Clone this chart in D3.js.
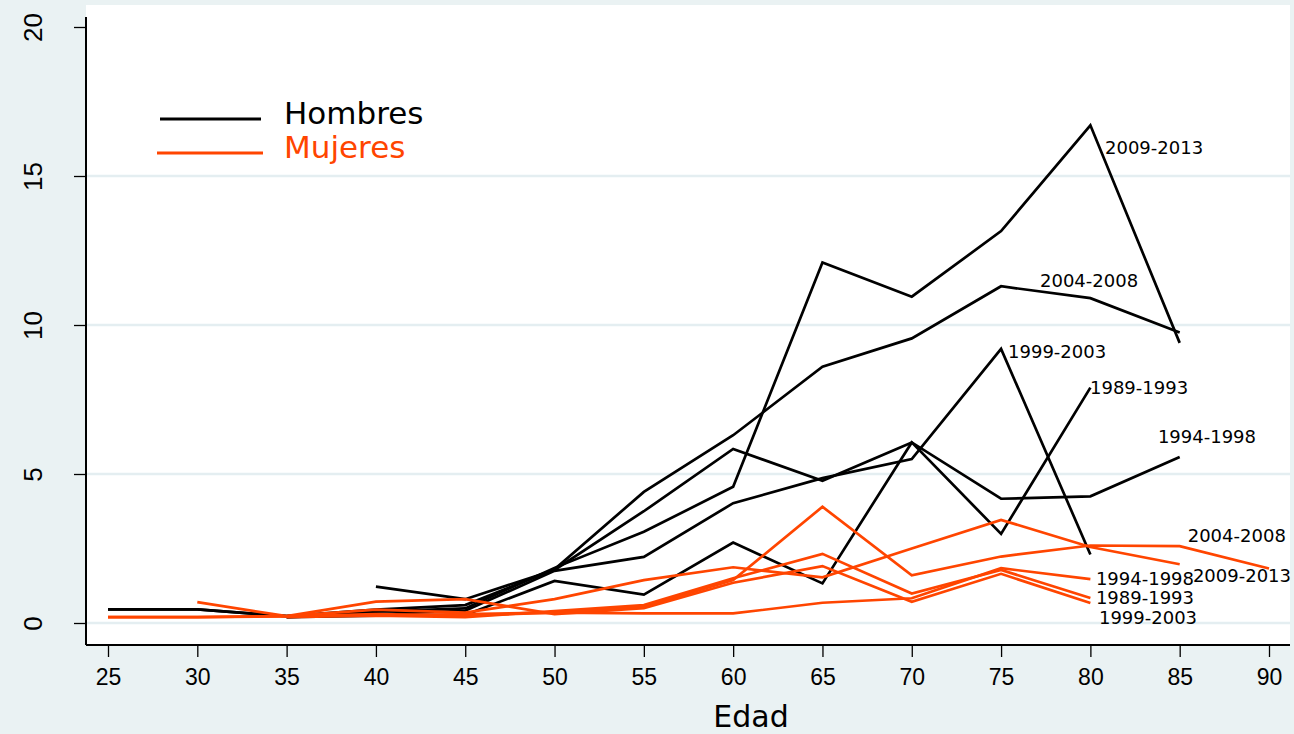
<!DOCTYPE html>
<html>
<head>
<meta charset="utf-8">
<script src="https://cdn.jsdelivr.net/npm/d3@7"></script>
<style>
  body { margin: 0; background: #eaf2f3; }
  svg { display: block; }
</style>
</head>
<body>
<svg id="chart"></svg>
<script>
const width = 1294
const height = 734

// age groups on the x axis
const ages = [25, 30, 35, 40, 45, 50, 55, 60, 65, 70, 75, 80, 85, 90]
const xTicks = [25, 30, 35, 40, 45, 50, 55, 60, 65, 70, 75, 80, 85, 90]
const yTicks = [0, 5, 10, 15, 20]

// Hombres (black), one array per period, null = no value
const hombres1989 = [null, null, 0.2, 0.25, 0.27, 1.41, 0.95, 2.7, 1.33, 6.06, 2.99, 7.9, null, null]
const hombres1994 = [null, null, null, 1.22, 0.8, 1.78, 3.75, 5.84, 4.77, 6.06, 4.17, 4.25, 5.57, null]
const hombres1999 = [null, null, 0.2, 0.3, 0.41, 1.75, 2.22, 4.02, 4.86, 5.5, 9.2, 2.3, null, null]
const hombres2004 = [0.46, 0.46, 0.23, 0.45, 0.6, 1.8, 4.4, 6.3, 8.6, 9.55, 11.3, 10.9, 9.75, null]
const hombres2009 = [0.46, 0.46, 0.23, 0.38, 0.49, 1.85, 3.06, 4.57, 12.1, 10.95, 13.15, 16.7, 9.4, null]

// Mujeres (orange)
const mujeres1989 = [null, null, 0.2, 0.25, 0.2, 0.4, 0.6, 1.5, 2.32, 0.99, 1.78, 0.84, null, null]
const mujeres1994 = [null, null, null, 0.25, 0.3, 0.35, 0.32, 0.32, 0.68, 0.83, 1.84, 1.47, null, null]
const mujeres1999 = [null, 0.7, 0.23, 0.72, 0.8, 0.3, 0.5, 1.35, 1.91, 0.71, 1.65, 0.67, null, null]
const mujeres2004 = [0.2, 0.2, 0.22, 0.3, 0.25, 0.35, 0.55, 1.44, 3.9, 1.6, 2.23, 2.6, 2.58, 1.83]
const mujeres2009 = [0.2, 0.2, 0.23, 0.45, 0.35, 0.8, 1.44, 1.87, 1.53, 2.5, 3.46, 2.55, 1.97, null]

// series labels and where they sit (age, value)
const hombresLabels = ['1989-1993', '1994-1998', '1999-2003', '2004-2008', '2009-2013']
const hombresLabelAt = [[79.98, 7.68], [83.78, 6.04], [75.39, 8.89], [77.18, 11.29], [80.82, 15.74]]
const mujeresLabels = ['1989-1993', '1994-1998', '1999-2003', '2004-2008', '2009-2013']
const mujeresLabelAt = [[80.31, 0.64], [80.31, 1.28], [80.48, -0.03], [85.45, 2.72], [85.74, 1.39]]

const legendNames = ['Hombres', 'Mujeres']

const black = '#000000'
const orange = '#ff4500'

const hombres = [hombres1989, hombres1994, hombres1999, hombres2004, hombres2009]
const mujeres = [mujeres1989, mujeres1994, mujeres1999, mujeres2004, mujeres2009]

const svg = d3.select('#chart').attr('width', width).attr('height', height)

// plot region box
const plot = { left: 86, right: 1290, top: 5, bottom: 645 }

const x = d3.scaleLinear().domain([25, 90]).range([108, 1269])
const y = d3.scaleLinear().domain([0, 20]).range([623, 27])

svg.append('rect')
  .attr('width', width).attr('height', height)
  .attr('fill', '#eaf2f3')

svg.append('rect')
  .attr('x', plot.left).attr('y', plot.top)
  .attr('width', plot.right - plot.left).attr('height', plot.bottom - plot.top)
  .attr('fill', '#ffffff')

// grid lines
svg.append('g')
  .selectAll('line')
  .data(yTicks.filter((d) => d < 20))
  .join('line')
  .attr('x1', plot.left).attr('x2', plot.right)
  .attr('y1', (d) => y(d)).attr('y2', (d) => y(d))
  .attr('stroke', '#e4eef1')
  .attr('stroke-width', 2.5)

// y axis
const yAxis = svg.append('g')
  .attr('transform', 'translate(' + plot.left + ',0)')
  .call(d3.axisLeft(y).tickValues(yTicks).tickSize(12).tickPadding(0).tickFormat(d3.format('d')))
yAxis.select('.domain').remove()
yAxis.selectAll('.tick line').attr('stroke', '#000').attr('stroke-width', 1.3)
yAxis.selectAll('.tick text')
  .attr('x', 0).attr('y', 0).attr('dy', 0)
  .attr('text-anchor', 'middle')
  .attr('transform', 'translate(-44,0) rotate(-90)')
  .attr('font-family', 'Liberation Sans, Arial, sans-serif')
  .attr('font-size', 26)
  .attr('fill', '#000')

// x axis
const xAxis = svg.append('g')
  .attr('transform', 'translate(0,' + plot.bottom + ')')
  .call(d3.axisBottom(x).tickValues(xTicks).tickSize(12).tickPadding(0).tickFormat(d3.format('d')))
xAxis.select('.domain').remove()
xAxis.selectAll('.tick line').attr('stroke', '#000').attr('stroke-width', 1.3)
xAxis.selectAll('.tick text')
  .attr('y', 40).attr('dy', 0)
  .attr('font-family', 'Liberation Sans, Arial, sans-serif')
  .attr('font-size', 23)
  .attr('fill', '#000')

// axis lines
svg.append('line')
  .attr('x1', plot.left).attr('x2', plot.left)
  .attr('y1', plot.top + 12).attr('y2', plot.bottom)
  .attr('stroke', '#000').attr('stroke-width', 2)
svg.append('line')
  .attr('x1', plot.left).attr('x2', plot.right)
  .attr('y1', plot.bottom).attr('y2', plot.bottom)
  .attr('stroke', '#000').attr('stroke-width', 2)

svg.append('text')
  .attr('x', (plot.left + plot.right) / 2 + 63)
  .attr('y', 727)
  .attr('text-anchor', 'middle')
  .attr('font-family', 'DejaVu Sans, sans-serif')
  .attr('font-size', 30)
  .text('Edad')

// lines
const line = d3.line()
  .defined((d) => d != null)
  .x((d, i) => x(ages[i]))
  .y((d) => y(d))

svg.append('g')
  .selectAll('path')
  .data(hombres)
  .join('path')
  .attr('d', line)
  .attr('fill', 'none')
  .attr('stroke', black)
  .attr('stroke-width', 2.7)

svg.append('g')
  .selectAll('path')
  .data(mujeres)
  .join('path')
  .attr('d', line)
  .attr('fill', 'none')
  .attr('stroke', orange)
  .attr('stroke-width', 2.7)

// labels
const labelFont = 'DejaVu Sans, sans-serif'
svg.append('g')
  .selectAll('text')
  .data(hombresLabels)
  .join('text')
  .attr('x', (d, i) => x(hombresLabelAt[i][0]))
  .attr('y', (d, i) => y(hombresLabelAt[i][1]))
  .attr('font-family', labelFont)
  .attr('font-size', 18)
  .attr('fill', black)
  .text((d) => d)

svg.append('g')
  .selectAll('text')
  .data(mujeresLabels)
  .join('text')
  .attr('x', (d, i) => x(mujeresLabelAt[i][0]))
  .attr('y', (d, i) => y(mujeresLabelAt[i][1]))
  .attr('font-family', labelFont)
  .attr('font-size', 18)
  .attr('fill', black)
  .text((d) => d)

// legend
const legend = svg.append('g')
legend.selectAll('line')
  .data(legendNames)
  .join('line')
  .attr('x1', (d, i) => (i === 0 ? 160 : 157))
  .attr('x2', (d, i) => (i === 0 ? 261 : 263))
  .attr('y1', (d, i) => 119 + i * 34)
  .attr('y2', (d, i) => 119 + i * 34)
  .attr('stroke', (d, i) => (i === 0 ? black : orange))
  .attr('stroke-width', 3)
legend.selectAll('text')
  .data(legendNames)
  .join('text')
  .attr('x', 284)
  .attr('y', (d, i) => 124 + i * 34)
  .attr('font-family', labelFont)
  .attr('font-size', 31)
  .attr('fill', (d, i) => (i === 0 ? black : orange))
  .text((d) => d)
</script>
</body>
</html>
